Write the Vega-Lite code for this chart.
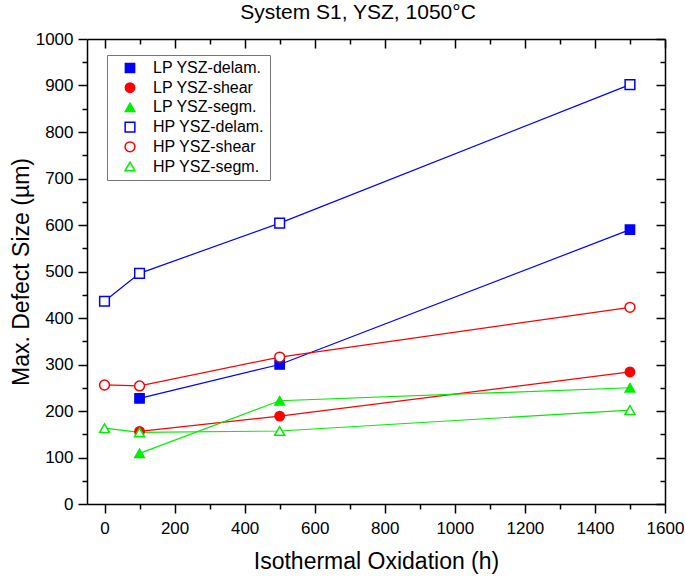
{
  "$schema": "https://vega.github.io/schema/vega-lite/v6.json",
  "width": 578,
  "height": 465,
  "autosize": "none",
  "padding": {"left": 87, "top": 39, "right": 20, "bottom": 72},
  "background": "white",
  "title": {"text": "System S1, YSZ, 1050°C", "fontSize": 21, "font": "Liberation Sans", "fontWeight": "normal", "anchor": "middle", "frame": "group", "baseline": "alphabetic", "offset": -10, "dx": -18, "color": "black"},
  "config": {
    "view": {"stroke": null},
    "font": "Liberation Sans",
    "axis": {"grid": false, "domainColor": "black", "domainWidth": 1.5, "tickColor": "black", "tickWidth": 1.5, "labelFontSize": 17, "labelColor": "black", "labelFont": "Liberation Sans", "titleFont": "Liberation Sans", "titleFontSize": 23, "titleFontWeight": "normal", "titleColor": "black", "labelFlush": false, "labelOverlap": false, "format": "d"},
    "legend": {"title": null, "orient": "none", "legendX": 20, "legendY": 16, "padding": 5, "strokeColor": "#777777", "fillColor": "white", "labelFontSize": 16, "labelFont": "Liberation Sans", "labelColor": "black", "rowPadding": 3.7, "symbolSize": 121, "symbolStrokeWidth": 1.5, "labelOffset": 15, "symbolOffset": 10}
  },
  "data": {"values": [
    {"series": "LP YSZ-delam.", "time": 100, "size": 227},
    {"series": "LP YSZ-delam.", "time": 500, "size": 300},
    {"series": "LP YSZ-delam.", "time": 1500, "size": 590},
    {"series": "LP YSZ-shear", "time": 100, "size": 156},
    {"series": "LP YSZ-shear", "time": 500, "size": 189},
    {"series": "LP YSZ-shear", "time": 1500, "size": 284},
    {"series": "LP YSZ-segm.", "time": 100, "size": 109},
    {"series": "LP YSZ-segm.", "time": 500, "size": 222},
    {"series": "LP YSZ-segm.", "time": 1500, "size": 250},
    {"series": "HP YSZ-delam.", "time": 0, "size": 436},
    {"series": "HP YSZ-delam.", "time": 100, "size": 496},
    {"series": "HP YSZ-delam.", "time": 500, "size": 604},
    {"series": "HP YSZ-delam.", "time": 1500, "size": 902},
    {"series": "HP YSZ-shear", "time": 0, "size": 256},
    {"series": "HP YSZ-shear", "time": 100, "size": 254},
    {"series": "HP YSZ-shear", "time": 500, "size": 316},
    {"series": "HP YSZ-shear", "time": 1500, "size": 423},
    {"series": "HP YSZ-segm.", "time": 0, "size": 163},
    {"series": "HP YSZ-segm.", "time": 100, "size": 154},
    {"series": "HP YSZ-segm.", "time": 500, "size": 157},
    {"series": "HP YSZ-segm.", "time": 1500, "size": 202}
  ]},
  "layer": [
    {
      "mark": {"type": "line", "strokeWidth": 1.2},
      "encoding": {
        "x": {"field": "time", "type": "quantitative", "scale": {"domain": [-50, 1600], "nice": false, "zero": false},
          "axis": {"orient": "bottom", "values": [0,100,200,300,400,500,600,700,800,900,1000,1100,1200,1300,1400,1500,1600], "labelExpr": "datum.value % 200 == 0 ? datum.label : ''", "tickSize": {"condition": {"test": "datum.value % 200 == 0", "value": 9}, "value": 5}, "labelPadding": 7, "title": "Isothermal Oxidation (h)", "titlePadding": 14}},
        "y": {"field": "size", "type": "quantitative", "scale": {"domain": [0, 1000], "nice": false},
          "axis": {"orient": "left", "values": [0,50,100,150,200,250,300,350,400,450,500,550,600,650,700,750,800,850,900,950,1000], "labelExpr": "datum.value % 100 == 0 ? datum.label : ''", "tickSize": {"condition": {"test": "datum.value % 100 == 0", "value": 9}, "value": 5}, "labelPadding": 5, "title": "Max. Defect Size (µm)", "titlePadding": 2}},
        "stroke": {"field": "series", "type": "nominal",
          "scale": {"domain": ["LP YSZ-delam.", "LP YSZ-shear", "LP YSZ-segm.", "HP YSZ-delam.", "HP YSZ-shear", "HP YSZ-segm."], "range": ["#0000ff", "#ff0000", "#00ee00", "#0000ff", "#ff0000", "#00ee00"]},
          "legend": {"encode": {"symbols": {"update": {"size": {"value": 121}}}}}}
      }
    },
    {
      "mark": {"type": "point", "strokeWidth": 1.5, "opacity": 1},
      "encoding": {
        "x": {"field": "time", "type": "quantitative",
          "axis": {"orient": "top", "values": [0,100,200,300,400,500,600,700,800,900,1000,1100,1200,1300,1400,1500,1600], "labels": false, "tickSize": {"condition": {"test": "datum.value % 200 == 0", "value": -9}, "value": -5}, "title": null}},
        "y": {"field": "size", "type": "quantitative",
          "axis": {"orient": "right", "values": [0,50,100,150,200,250,300,350,400,450,500,550,600,650,700,750,800,850,900,950,1000], "labels": false, "tickSize": {"condition": {"test": "datum.value % 100 == 0", "value": -9}, "value": -5}, "title": null}},
        "stroke": {"field": "series", "type": "nominal",
          "legend": {"encode": {"symbols": {"update": {"size": {"value": 121}}}}}},
        "fill": {"field": "series", "type": "nominal",
          "scale": {"domain": ["LP YSZ-delam.", "LP YSZ-shear", "LP YSZ-segm.", "HP YSZ-delam.", "HP YSZ-shear", "HP YSZ-segm."], "range": ["#0000ff", "#ff0000", "#00ee00", "#ffffff", "#ffffff", "#ffffff"]},
          "legend": {"encode": {"symbols": {"update": {"size": {"value": 121}}}}}},
        "shape": {"field": "series", "type": "nominal",
          "scale": {"domain": ["LP YSZ-delam.", "LP YSZ-shear", "LP YSZ-segm.", "HP YSZ-delam.", "HP YSZ-shear", "HP YSZ-segm."], "range": ["square", "circle", "triangle-up", "square", "circle", "triangle-up"]},
          "legend": {"encode": {"symbols": {"update": {"size": {"value": 121}}}}}},
        "size": {"field": "series", "type": "nominal", "legend": null,
          "scale": {"domain": ["LP YSZ-delam.", "LP YSZ-shear", "LP YSZ-segm.", "HP YSZ-delam.", "HP YSZ-shear", "HP YSZ-segm."], "range": [85, 100, 150, 80, 80, 140]}}
      }
    }
  ],
  "resolve": {"axis": {"x": "independent", "y": "independent"}}
}
